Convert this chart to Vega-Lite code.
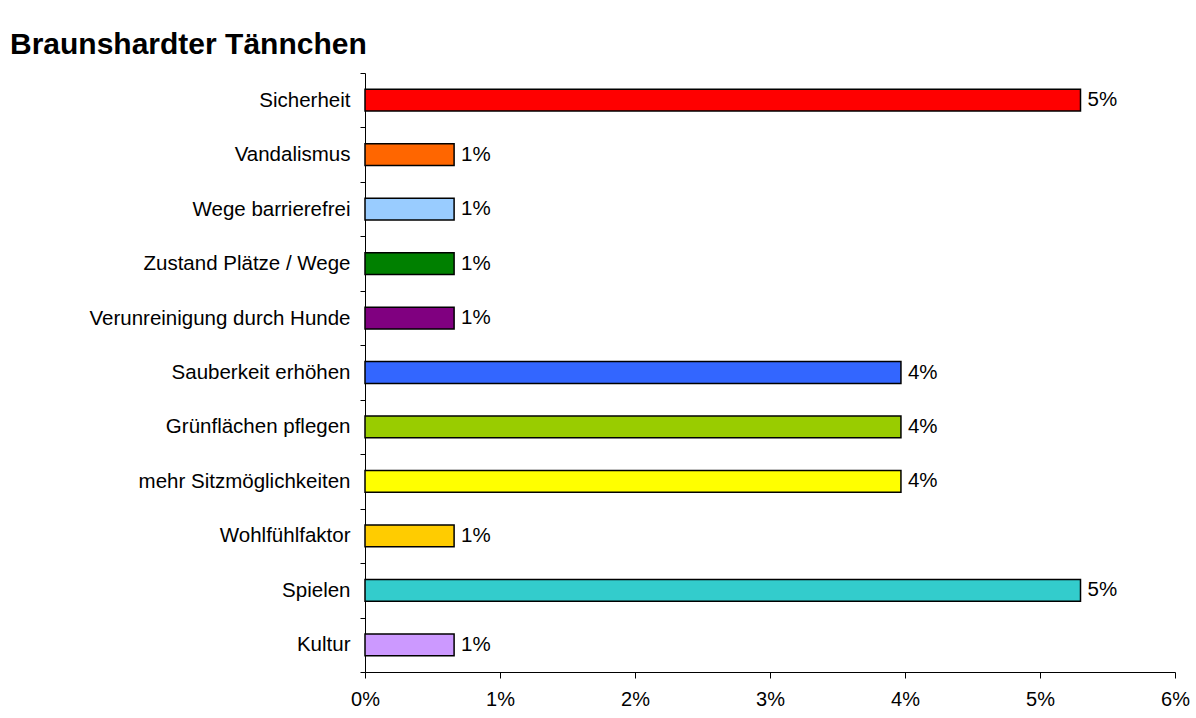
{
  "$schema": "https://vega.github.io/schema/vega-lite/v6.json",
  "width": 810,
  "height": 599,
  "autosize": {"type": "none"},
  "padding": {"left": 365, "top": 73, "right": 21, "bottom": 46},
  "background": "white",
  "title": {
    "text": "Braunshardter Tännchen",
    "anchor": "start",
    "frame": "group",
    "dx": -355,
    "dy": 37,
    "offset": 16,
    "baseline": "alphabetic",
    "font": "Liberation Sans",
    "fontSize": 30,
    "fontWeight": "bold",
    "color": "black"
  },
  "config": {
    "view": {"stroke": null},
    "font": "Liberation Sans"
  },
  "data": {
    "values": [
      {"kategorie": "Sicherheit", "anteil": 0.053, "label": "5%", "farbe": "#FF0000"},
      {"kategorie": "Vandalismus", "anteil": 0.0066, "label": "1%", "farbe": "#FF6600"},
      {"kategorie": "Wege barrierefrei", "anteil": 0.0066, "label": "1%", "farbe": "#99CCFF"},
      {"kategorie": "Zustand Plätze / Wege", "anteil": 0.0066, "label": "1%", "farbe": "#008000"},
      {"kategorie": "Verunreinigung durch Hunde", "anteil": 0.0066, "label": "1%", "farbe": "#800080"},
      {"kategorie": "Sauberkeit erhöhen", "anteil": 0.0397, "label": "4%", "farbe": "#3366FF"},
      {"kategorie": "Grünflächen pflegen", "anteil": 0.0397, "label": "4%", "farbe": "#99CC00"},
      {"kategorie": "mehr Sitzmöglichkeiten", "anteil": 0.0397, "label": "4%", "farbe": "#FFFF00"},
      {"kategorie": "Wohlfühlfaktor", "anteil": 0.0066, "label": "1%", "farbe": "#FFCC00"},
      {"kategorie": "Spielen", "anteil": 0.053, "label": "5%", "farbe": "#33CCCC"},
      {"kategorie": "Kultur", "anteil": 0.0066, "label": "1%", "farbe": "#CC99FF"}
    ]
  },
  "encoding": {
    "y": {
      "field": "kategorie",
      "type": "nominal",
      "sort": null,
      "scale": {"paddingInner": 0, "paddingOuter": 0},
      "axis": {
        "title": null,
        "tickBand": "extent",
        "domainColor": "black",
        "domainWidth": 1,
        "tickColor": "black",
        "tickSize": 5,
        "labelFontSize": 20.5,
        "labelColor": "black",
        "labelPadding": 10,
        "labelLimit": 400
      }
    },
    "x": {
      "field": "anteil",
      "type": "quantitative",
      "scale": {"domain": [0, 0.06], "nice": false},
      "axis": {
        "title": null,
        "format": ".0%",
        "values": [0, 0.01, 0.02, 0.03, 0.04, 0.05, 0.06],
        "grid": false,
        "domainColor": "black",
        "tickColor": "black",
        "tickSize": 6,
        "labelFontSize": 20,
        "labelColor": "black",
        "labelPadding": 11,
        "labelFlush": false
      }
    }
  },
  "layer": [
    {
      "mark": {"type": "bar", "height": {"band": 0.4}, "stroke": "black", "strokeWidth": 1.5},
      "encoding": {
        "color": {"field": "farbe", "type": "nominal", "scale": null, "legend": null}
      }
    },
    {
      "mark": {"type": "text", "align": "left", "baseline": "middle", "dx": 7, "fontSize": 20.5, "color": "black"},
      "encoding": {
        "text": {"field": "label"}
      }
    }
  ]
}
